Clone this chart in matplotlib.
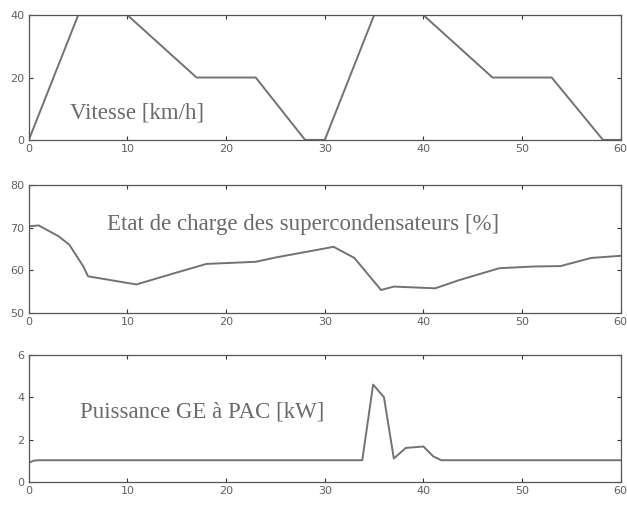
import numpy as np
import matplotlib
matplotlib.use("Agg")
import matplotlib.pyplot as plt

# speed profile [km/h]
t_speed = [0, 5, 10, 17, 23, 28, 30, 35, 40, 47, 53, 58.2, 60]
speed = [0, 40, 40, 20, 20, 0, 0, 40, 40, 20, 20, 0, 0]

# supercapacitor state of charge [%]
t_soc = [0, 1, 3, 4.1, 5.5, 6, 10.9, 15, 18, 23, 25, 30.9, 33, 35.7, 37, 41.2, 43.6, 47.7, 51.2, 53.9, 57, 60]
soc = [70.3, 70.5, 68, 66, 61, 58.6, 56.7, 59.5, 61.5, 62, 63, 65.5, 62.9, 55.4, 56.2, 55.8, 57.7, 60.5, 60.9, 61, 62.9, 63.4]

# fuel cell power [kW]
t_pow = [0, 0.5, 1, 33.8, 34.9, 36, 37, 38.2, 40, 41, 41.8, 60]
power = [0.9, 1.0, 1.02, 1.02, 4.6, 4.0, 1.1, 1.6, 1.67, 1.2, 1.02, 1.02]

line_col = "#727272"
text_col = "#6a6a6a"

fig = plt.figure(figsize=(6.27, 5.05), dpi=100)

panels = [
    (t_speed, speed, (0, 40), [0, 20, 40], "Vitesse [km/h]", (4.2, 8.6), [0.046, 0.723, 0.944, 0.247]),
    (t_soc, soc, (50, 80), [50, 60, 70, 80], "Etat de charge des supercondensateurs [%]", (7.9, 70.8), [0.046, 0.380, 0.944, 0.254]),
    (t_pow, power, (0, 6), [0, 2, 4, 6], "Puissance GE à PAC [kW]", (5.2, 3.3), [0.046, 0.046, 0.944, 0.251]),
]

for t, y, ylim, yticks, label, pos, rect in panels:
    ax = fig.add_axes(rect)
    ax.plot(t, y, color=line_col, lw=1.4)
    ax.set_xlim(0, 60)
    ax.set_ylim(*ylim)
    ax.set_xticks(range(0, 61, 10))
    ax.set_yticks(yticks)
    ax.tick_params(direction="in", top=True, right=True, length=3, labelsize=8,
                   labelcolor="#606060", color="#333333", pad=3)
    for s in ax.spines.values():
        s.set_color("#555555")
        s.set_linewidth(0.9)
    ax.text(pos[0], pos[1], label, family="Liberation Serif", fontsize=16.5,
            color=text_col, va="center", ha="left")

fig.savefig("out.png", dpi=100)
